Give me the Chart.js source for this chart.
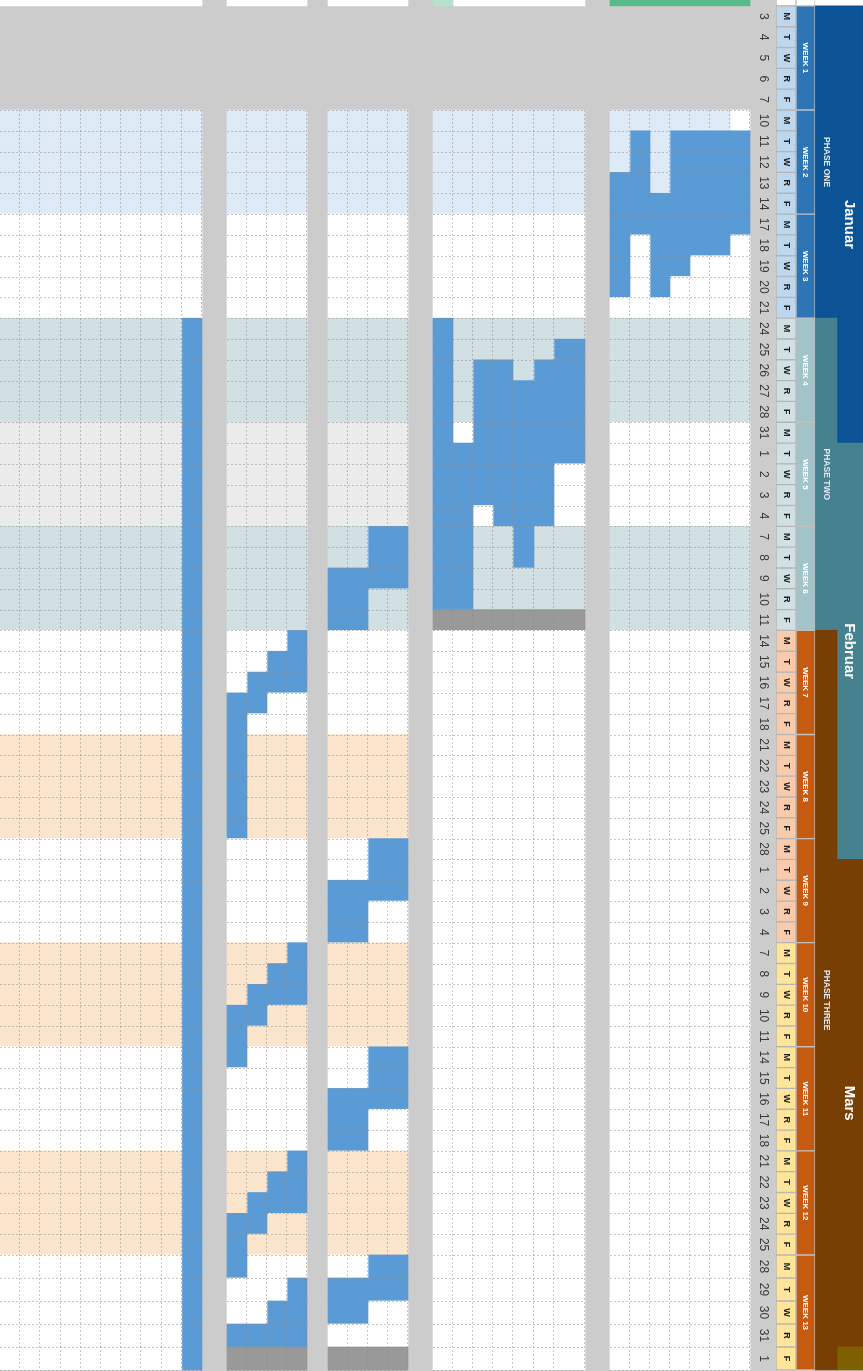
<!DOCTYPE html>
<html>
<head>
<meta charset="utf-8">
<script src="https://cdn.jsdelivr.net/npm/chart.js@4.4.1/dist/chart.umd.min.js"></script>
<style>
  html, body { margin: 0; padding: 0; background: #cccccc; overflow: hidden; }
  #plan { display: block; background: #cccccc; }
</style>
</head>
<body>
<canvas id="plan" width="863" height="1371"></canvas>
<script>
// ---- data (one row per working day, rows 0..64) ----
const days = [
    3, 4, 5, 6, 7, 10, 11, 12, 13, 14, 17, 18, 19, 20, 21,
    24, 25, 26, 27, 28, 31, 1, 2, 3, 4, 7, 8, 9, 10, 11,
    14, 15, 16, 17, 18, 21, 22, 23, 24, 25, 28, 1, 2, 3, 4,
    7, 8, 9, 10, 11, 14, 15, 16, 17, 18, 21, 22, 23, 24, 25,
    28, 29, 30, 31, 1
];
const dayLetters = ["M", "T", "W", "R", "F"];
const weekLabels = [
    "WEEK 1", "WEEK 2", "WEEK 3", "WEEK 4", "WEEK 5", "WEEK 6", "WEEK 7",
    "WEEK 8", "WEEK 9", "WEEK 10", "WEEK 11", "WEEK 12", "WEEK 13"
];
const phaseLabels = ["PHASE ONE", "PHASE TWO", "PHASE THREE"];
const phaseRows = [[0, 15], [15, 30], [30, 65]];
const monthLabels = ["Januar", "Februar", "Mars", "April"];
const monthRows = [[0, 21], [21, 41], [41, 64], [64, 65]];

// week shading of the task columns
const bandsLeft = ["none", "blue", "white", "teal", "gray", "teal", "white", "peach", "white", "peach", "white", "peach", "white"];
const bandsRight = ["none", "blue", "white", "teal", "white", "teal", "white", "white", "white", "white", "white", "white", "white"];

// filled cells: [fromRow, toRow, mask]  1 = done, x = closed, w = blank, 0 = empty
const taskE = [[15, 64, "0000000001"]];
const taskD = [
    [30, 30, "0001"], [31, 31, "0011"], [32, 32, "0111"], [33, 33, "1100"], [34, 39, "1000"],
    [45, 45, "0001"], [46, 46, "0011"], [47, 47, "0111"], [48, 48, "1100"], [49, 50, "1000"],
    [55, 55, "0001"], [56, 56, "0011"], [57, 57, "0111"], [58, 58, "1100"], [59, 60, "1000"],
    [61, 61, "0001"], [62, 62, "0011"], [63, 63, "1111"], [64, 64, "xxxx"]
];
const taskC = [
    [25, 26, "0011"], [27, 27, "1111"], [28, 29, "1100"],
    [40, 41, "0011"], [42, 42, "1111"], [43, 44, "1100"],
    [50, 51, "0011"], [52, 52, "1111"], [53, 54, "1100"],
    [60, 60, "0011"], [61, 61, "1111"], [62, 62, "1100"], [64, 64, "xxxx"]
];
const taskB = [
    [15, 15, "1000000"], [16, 16, "1000001"], [17, 17, "1011011"], [18, 20, "1011111"],
    [21, 21, "1111111"], [22, 23, "1111110"], [24, 24, "1101110"], [25, 26, "1100100"],
    [27, 28, "1100000"], [29, 29, "xxxxxxx"]
];
const taskA = [
    [5, 5, "000000w"], [6, 7, "0101111"], [8, 8, "1101111"], [9, 10, "1111111"],
    [11, 11, "1011110"], [12, 12, "1011000"], [13, 13, "1010000"]
];

// ---- layout and colours ----
const tallFrom = 60, tallSize = 1.105;     // the last week has taller rows
function rowTop(r) {
    return r <= tallFrom ? r : tallFrom + (r - tallFrom) * tallSize;
}
function rowMid(r) {
    return (rowTop(r) + rowTop(r + 1)) / 2;
}

const bandColor = { blue: "#deeaf6", white: "#ffffff", teal: "#d0e0e3", gray: "#ebebeb", peach: "#fce5cd" };
const doneColor = "#5b9bd5";
const closedColor = "#999999";
const letterColors = ["#bdd7ee", "#bdd7ee", "#bdd7ee", "#d0e0e3", "#d0e0e3", "#d0e0e3",
    "#f8cbad", "#f8cbad", "#f8cbad", "#ffe599", "#ffe599", "#ffe599", "#ffe599"];
const weekColors = ["#2e75b6", "#2e75b6", "#2e75b6", "#a2c4c9", "#a2c4c9", "#a2c4c9",
    "#c55a11", "#c55a11", "#c55a11", "#c55a11", "#c55a11", "#c55a11", "#c55a11"];
const phaseColors = ["#0b5394", "#45818e", "#783f04"];
const monthColors = ["#0b5394", "#45818e", "#783f04", "#7f6000"];

const groups = [
    { x: 0, widths: [20.2, 20.2, 20.2, 20.2, 20.2, 20.2, 20.2, 20.2, 20.2, 20.2], tasks: taskE, bands: bandsLeft,
      head: ["#fff", "#fff", "#fff", "#fff", "#fff", "#fff", "#fff", "#fff", "#fff", "#fff"] },
    { x: 227, widths: [20, 20, 20, 20], tasks: taskD, bands: bandsLeft, head: ["#fff", "#fff", "#fff", "#fff"] },
    { x: 328, widths: [20, 20, 20, 20], tasks: taskC, bands: bandsLeft, head: ["#fff", "#fff", "#fff", "#fff"] },
    { x: 433, widths: [20, 20, 20, 20, 21, 20, 31], tasks: taskB, bands: bandsRight,
      head: ["#b7e1cd", "#fff", "#fff", "#fff", "#fff", "#fff", "#fff"] },
    { x: 610, widths: [20, 20, 20, 20, 20, 20, 20], tasks: taskA, bands: bandsRight,
      head: ["#57bb8a", "#57bb8a", "#57bb8a", "#57bb8a", "#57bb8a", "#57bb8a", "#57bb8a"] }
];
const dateCol = { x: 750, w: 26 };
const letterCol = { x: 776, w: 20 };
const weekCol = { x: 796, w: 19 };
const phaseCol = { x: 815, w: 22 };
const monthCol = { x: 837, w: 26 };

function maskAt(tasks, row, col) {
    for (const [a, b, m] of tasks) {
        if (row >= a && row <= b) return m[col];
    }
    return "0";
}

// ---- build the datasets ----
const datasets = [];

groups.forEach(g => {
    let left = g.x;
    g.widths.forEach((w, j) => {
        const cx = left + w / 2;
        const data = [{ x: cx, y: [-1, 0] }];
        const colors = [g.head[j]];
        for (let r = 0; r < days.length; r++) {
            const band = g.bands[Math.floor(r / 5)];
            if (band === "none") continue;
            const c = maskAt(g.tasks, r, j);
            let fill = bandColor[band];
            if (c === "1") fill = doneColor;
            if (c === "x") fill = closedColor;
            if (c === "w") fill = "#ffffff";
            data.push({ x: cx, y: [rowTop(r), rowTop(r + 1)] });
            colors.push(fill);
        }
        datasets.push({ data, backgroundColor: colors, barThickness: w, borderWidth: 0 });
        left += w;
    });
});

// day letter cells
datasets.push({
    data: [{ x: letterCol.x + letterCol.w / 2, y: [-1, 0] }].concat(
        days.map((d, r) => ({ x: letterCol.x + letterCol.w / 2, y: [rowTop(r), rowTop(r + 1)] }))),
    backgroundColor: ["#ffffff"].concat(days.map((d, r) => letterColors[Math.floor(r / 5)])),
    barThickness: letterCol.w,
    borderWidth: 1,
    borderColor: "#b5b5b5",
    borderSkipped: false
});

// week cells
datasets.push({
    data: [{ x: weekCol.x + weekCol.w / 2, y: [-1, 0] }].concat(
        weekLabels.map((w, i) => ({ x: weekCol.x + weekCol.w / 2, y: [rowTop(i * 5), rowTop(i * 5 + 5)] }))),
    backgroundColor: ["#ffffff"].concat(weekColors),
    barThickness: weekCol.w,
    borderWidth: 1,
    borderColor: "rgba(190,190,190,0.8)",
    borderSkipped: false
});

// phases and months
datasets.push({
    data: [{ x: phaseCol.x + phaseCol.w / 2, y: [-1, 0] }].concat(
        phaseRows.map(p => ({ x: phaseCol.x + phaseCol.w / 2, y: [rowTop(p[0]), rowTop(p[1])] }))),
    backgroundColor: ["#ffffff"].concat(phaseColors),
    barThickness: phaseCol.w,
    borderWidth: 0
});
datasets.push({
    data: [{ x: monthCol.x + monthCol.w / 2, y: [-1, 0] }].concat(
        monthRows.map(m => ({ x: monthCol.x + monthCol.w / 2, y: [rowTop(m[0]), rowTop(m[1])] }))),
    backgroundColor: ["#ffffff"].concat(monthColors),
    barThickness: monthCol.w,
    borderWidth: 0
});

// ---- plugins: dashed cell grid and rotated labels ----
const cellGrid = {
    id: "cellGrid",
    afterDatasetsDraw(chart) {
        const ctx = chart.ctx;
        const xs = chart.scales.x, ys = chart.scales.y;
        ctx.save();
        ctx.setLineDash([2, 2]);
        ctx.strokeStyle = "rgba(140,140,140,0.5)";
        ctx.lineWidth = 1;
        const top = ys.getPixelForValue(rowTop(5));
        const bottom = ys.getPixelForValue(rowTop(days.length));
        groups.forEach(g => {
            const x0 = xs.getPixelForValue(g.x);
            const x1 = xs.getPixelForValue(g.x + g.widths.reduce((a, b) => a + b, 0));
            ctx.beginPath();
            for (let r = 5; r <= days.length; r++) {
                const y = Math.round(ys.getPixelForValue(rowTop(r))) + 0.5;
                ctx.moveTo(x0, y);
                ctx.lineTo(x1, y);
            }
            let left = g.x;
            g.widths.forEach(w => {
                left += w;
                const x = Math.round(xs.getPixelForValue(left)) - 0.5;
                ctx.moveTo(x, top);
                ctx.lineTo(x, bottom);
            });
            ctx.stroke();
        });
        ctx.restore();
    }
};

function rotatedText(ctx, text, x, y, font, color) {
    ctx.save();
    ctx.translate(x, y);
    ctx.rotate(Math.PI / 2);
    ctx.font = font;
    ctx.fillStyle = color;
    ctx.textAlign = "center";
    ctx.textBaseline = "middle";
    ctx.fillText(text, 0, 0);
    ctx.restore();
}

const labels = {
    id: "labels",
    afterDraw(chart) {
        const ctx = chart.ctx;
        const xs = chart.scales.x, ys = chart.scales.y;
        const fam = "\"Liberation Sans\", Arial, sans-serif";

        days.forEach((d, r) => {
            const y = ys.getPixelForValue(rowMid(r));
            rotatedText(ctx, String(d), xs.getPixelForValue(dateCol.x + dateCol.w / 2), y, "12px " + fam, "#3a3a3a");
            rotatedText(ctx, dayLetters[r % 5], xs.getPixelForValue(letterCol.x + letterCol.w / 2), y, "bold 9px " + fam, "#1e1e1e");
        });

        weekLabels.forEach((w, i) => {
            const y = ys.getPixelForValue((rowTop(i * 5) + rowTop(i * 5 + 5)) / 2);
            rotatedText(ctx, w, xs.getPixelForValue(weekCol.x + weekCol.w / 2), y, "bold 8px " + fam, "#ffffff");
        });

        phaseLabels.forEach((p, i) => {
            const y = ys.getPixelForValue((rowTop(phaseRows[i][0]) + rowTop(phaseRows[i][1])) / 2);
            rotatedText(ctx, p, xs.getPixelForValue(phaseCol.x + phaseCol.w / 2), y, "bold 8.5px " + fam, "#e3e8ef");
        });

        monthLabels.forEach((m, i) => {
            // the last month only shows one row, its title is off the sheet
            if (monthRows[i][1] - monthRows[i][0] < 3) return;
            const y = ys.getPixelForValue((rowTop(monthRows[i][0]) + rowTop(monthRows[i][1])) / 2);
            rotatedText(ctx, m, xs.getPixelForValue(monthCol.x + 12), y, "bold 15px " + fam, "#ffffff");
        });
    }
};

const plan = new Chart(document.getElementById("plan"), {
    type: "bar",
    data: { datasets },
    options: {
        responsive: false,
        animation: false,
        devicePixelRatio: 1,
        grouped: false,
        barPercentage: 1,
        categoryPercentage: 1,
        layout: { padding: 0 },
        plugins: { legend: { display: false }, tooltip: { enabled: false } },
        scales: {
            x: { type: "linear", min: 0, max: 863, offset: false, display: false },
            y: { type: "linear", min: -0.283, max: 65.574, reverse: true, display: false }
        }
    },
    plugins: [cellGrid, labels]
});
</script>
</body>
</html>
